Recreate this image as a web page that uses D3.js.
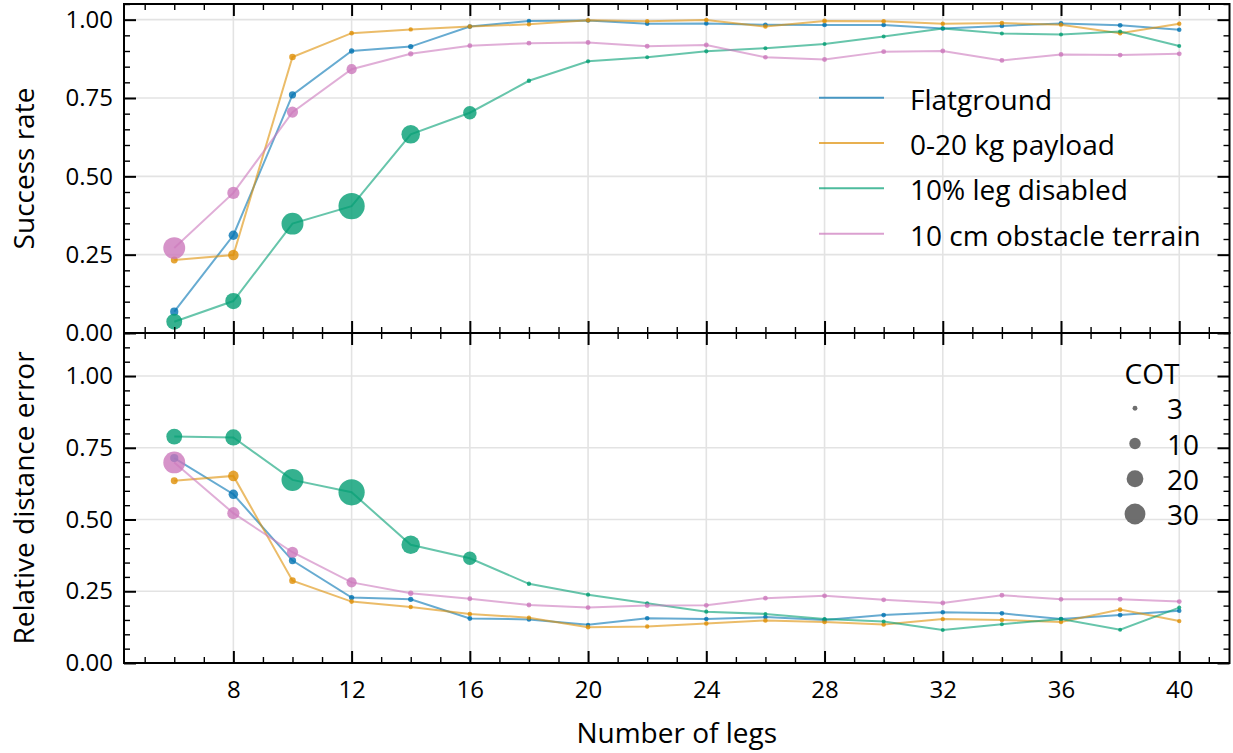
<!DOCTYPE html>
<html>
<head>
<meta charset="utf-8">
<script src="https://cdn.jsdelivr.net/npm/d3@7"></script>
<style>
  html, body { margin: 0; padding: 0; background: #fff; }
  svg { display: block; font-family: "Open Sans", "Noto Sans", sans-serif; }
</style>
</head>
<body>
<svg id="chart" width="1233" height="753"></svg>
<script>
// Number of legs on the x axis
const legs = [6, 8, 10, 12, 14, 16, 18, 20, 22, 24, 26, 28, 30, 32, 34, 36, 38, 40];

// Series names and colours
const seriesNames = ["Flatground", "0-20 kg payload", "10% leg disabled", "10 cm obstacle terrain"];
const seriesColors = ["#0173b2", "#de8f05", "#029e73", "#cc78bc"];

// Success rate per series
const successFlat     = [0.068, 0.312, 0.760, 0.900, 0.914, 0.978, 0.996, 0.997, 0.987, 0.988, 0.984, 0.983, 0.983, 0.972, 0.980, 0.988, 0.982, 0.968];
const successPayload  = [0.233, 0.249, 0.881, 0.957, 0.969, 0.978, 0.985, 0.998, 0.995, 0.999, 0.978, 0.996, 0.995, 0.987, 0.989, 0.984, 0.957, 0.987];
const successDisabled = [0.036, 0.102, 0.349, 0.405, 0.634, 0.703, 0.805, 0.867, 0.880, 0.899, 0.909, 0.922, 0.946, 0.972, 0.956, 0.953, 0.962, 0.916];
const successObstacle = [0.271, 0.447, 0.705, 0.842, 0.891, 0.917, 0.925, 0.927, 0.915, 0.919, 0.880, 0.873, 0.898, 0.900, 0.870, 0.889, 0.887, 0.891];

// Relative distance error per series
const errorFlat     = [0.714, 0.588, 0.357, 0.228, 0.222, 0.155, 0.152, 0.133, 0.156, 0.153, 0.160, 0.150, 0.167, 0.177, 0.173, 0.153, 0.167, 0.182];
const errorPayload  = [0.635, 0.652, 0.287, 0.214, 0.195, 0.171, 0.158, 0.125, 0.127, 0.138, 0.148, 0.143, 0.134, 0.153, 0.150, 0.143, 0.186, 0.146];
const errorDisabled = [0.789, 0.786, 0.638, 0.595, 0.412, 0.365, 0.276, 0.238, 0.208, 0.179, 0.171, 0.153, 0.145, 0.115, 0.135, 0.153, 0.116, 0.193];
const errorObstacle = [0.699, 0.522, 0.386, 0.281, 0.243, 0.224, 0.202, 0.193, 0.200, 0.201, 0.226, 0.234, 0.220, 0.209, 0.236, 0.222, 0.222, 0.214];

// Cost of transport (marker size) per series
const cotFlat     = [5.9, 7.4, 4.9, 3.3, 3.3, 3.0, 2.8, 2.7, 2.8, 2.8, 2.8, 2.9, 2.9, 2.8, 2.9, 2.9, 3.0, 2.8];
const cotPayload  = [4.6, 8.8, 4.3, 2.9, 2.7, 2.8, 2.7, 2.8, 2.7, 2.8, 2.8, 2.9, 2.8, 2.7, 2.8, 2.7, 2.8, 2.7];
const cotDisabled = [18.0, 18.7, 33.0, 46.7, 24.0, 13.5, 2.7, 2.6, 2.5, 2.6, 2.5, 2.5, 2.5, 2.5, 2.5, 2.5, 2.5, 2.5];
const cotObstacle = [33.0, 11.3, 9.7, 8.3, 3.3, 3.0, 3.0, 3.0, 3.0, 3.0, 2.9, 3.0, 3.0, 3.0, 3.0, 2.9, 3.0, 3.0];

// COT size legend entries
const cotLegend = [3, 10, 20, 30];

// Axis ticks
const xMajorTicks = [8, 12, 16, 20, 24, 28, 32, 36, 40];
const yMajorTicks = [0, 0.25, 0.5, 0.75, 1.0];

const successSeries = [successFlat, successPayload, successDisabled, successObstacle];
const errorSeries = [errorFlat, errorPayload, errorDisabled, errorObstacle];
const cotSeries = [cotFlat, cotPayload, cotDisabled, cotObstacle];

const svg = d3.select("#chart");
const left = 124, right = 1229.5;

const x = d3.scaleLinear().domain([4.3, 41.7]).range([left, right]);
// marker diameter squared grows linearly with COT
const sizeScale = d3.scaleLinear().domain([2.5, 46.7]).range([16, 688.5]);
const radius = c => Math.sqrt(sizeScale(c)) / 2;

const xMinor = d3.range(5, 42, 1).filter(v => !xMajorTicks.includes(v));

function panel(top, bottom, yMax, seriesVals, yLabel, showXLabels) {
  const y = d3.scaleLinear().domain([0, yMax]).range([bottom, top]);
  const yMinor = d3.range(0, Math.round(yMax * 20) + 1).map(i => i * 0.05)
    .filter(v => Math.abs(v * 4 - Math.round(v * 4)) > 1e-6 && v <= yMax + 1e-9);
  const g = svg.append("g");

  // grid
  g.append("g").selectAll("line").data(xMajorTicks).join("line")
    .attr("x1", d => x(d)).attr("x2", d => x(d))
    .attr("y1", top).attr("y2", bottom)
    .attr("stroke", "#e3e3e3").attr("stroke-width", 1.6);
  g.append("g").selectAll("line").data(yMajorTicks.filter(v => v > 0)).join("line")
    .attr("x1", left).attr("x2", right)
    .attr("y1", d => y(d)).attr("y2", d => y(d))
    .attr("stroke", "#e3e3e3").attr("stroke-width", 1.6);

  // lines
  const line = d3.line().x((d, i) => x(legs[i])).y(d => y(d));
  seriesVals.forEach((vals, s) => {
    g.append("path").datum(vals)
      .attr("d", line)
      .attr("fill", "none")
      .attr("stroke", seriesColors[s])
      .attr("stroke-opacity", 0.6)
      .attr("stroke-width", 2);
  });
  // markers
  seriesVals.forEach((vals, s) => {
    g.append("g").selectAll("circle").data(vals).join("circle")
      .attr("cx", (d, i) => x(legs[i]))
      .attr("cy", d => y(d))
      .attr("r", (d, i) => radius(cotSeries[s][i]))
      .attr("fill", seriesColors[s])
      .attr("fill-opacity", 0.8);
  });

  // axes: ticks inward on all sides
  const styleAxis = (sel, w) => {
    sel.select(".domain").remove();
    sel.selectAll(".tick line").attr("stroke", "#000").attr("stroke-width", w);
    sel.selectAll("text").attr("font-size", 24).attr("fill", "#000")
      .attr("font-family", "'Open Sans', 'Noto Sans', sans-serif");
  };
  const fmt = d3.format(".2f");
  g.append("g").attr("transform", `translate(${left},0)`)
    .call(d3.axisLeft(y).tickValues(yMajorTicks).tickFormat(fmt).tickSize(-12).tickPadding(11))
    .call(s => styleAxis(s, 2));
  g.append("g").attr("transform", `translate(${left},0)`)
    .call(d3.axisLeft(y).tickValues(yMinor).tickFormat("").tickSize(-6))
    .call(s => styleAxis(s, 1.4));
  g.append("g").attr("transform", `translate(${right},0)`)
    .call(d3.axisRight(y).tickValues(yMajorTicks).tickFormat("").tickSize(-12))
    .call(s => styleAxis(s, 2));
  g.append("g").attr("transform", `translate(${right},0)`)
    .call(d3.axisRight(y).tickValues(yMinor).tickFormat("").tickSize(-6))
    .call(s => styleAxis(s, 1.4));
  g.append("g").attr("transform", `translate(0,${bottom})`)
    .call(d3.axisBottom(x).tickValues(xMajorTicks).tickFormat(showXLabels ? d3.format("d") : "").tickSize(-12).tickPadding(18))
    .call(s => styleAxis(s, 2));
  g.append("g").attr("transform", `translate(0,${bottom})`)
    .call(d3.axisBottom(x).tickValues(xMinor).tickFormat("").tickSize(-6))
    .call(s => styleAxis(s, 1.4));
  g.append("g").attr("transform", `translate(0,${top})`)
    .call(d3.axisTop(x).tickValues(xMajorTicks).tickFormat("").tickSize(-12))
    .call(s => styleAxis(s, 2));
  g.append("g").attr("transform", `translate(0,${top})`)
    .call(d3.axisTop(x).tickValues(xMinor).tickFormat("").tickSize(-6))
    .call(s => styleAxis(s, 1.4));

  // frame
  g.append("rect").attr("x", left).attr("y", top)
    .attr("width", right - left).attr("height", bottom - top)
    .attr("fill", "none").attr("stroke", "#000").attr("stroke-width", 2);

  // y label
  g.append("text")
    .attr("transform", `translate(34,${(top + bottom) / 2}) rotate(-90)`)
    .attr("text-anchor", "middle")
    .attr("font-size", 28)
    .text(yLabel);
  return y;
}

panel(4, 333, 1.05, successSeries, "Success rate", false);
panel(333, 663, 1.15, errorSeries, "Relative distance error", true);

svg.append("text")
  .attr("x", (left + right) / 2).attr("y", 743)
  .attr("text-anchor", "middle").attr("font-size", 28)
  .text("Number of legs");

// series legend
const legendRowsY = d3.scaleLinear().domain([0, 3]).range([97.7, 233.7]);
const lg = svg.append("g");
seriesNames.forEach((name, i) => {
  const yy = legendRowsY(i);
  lg.append("line").attr("x1", 819).attr("x2", 884).attr("y1", yy).attr("y2", yy)
    .attr("stroke", seriesColors[i]).attr("stroke-opacity", 0.7).attr("stroke-width", 2);
  lg.append("text").attr("x", 910).attr("y", yy + 12).attr("font-size", 28).text(name);
});

// COT size legend
const cg = svg.append("g");
cg.append("text").attr("x", 1152).attr("y", 384).attr("text-anchor", "middle")
  .attr("font-size", 28).text("COT");
const cotRowsY = d3.scaleLinear().domain([0, 3]).range([408.3, 514]);
cotLegend.forEach((c, i) => {
  const yy = cotRowsY(i);
  cg.append("circle").attr("cx", 1135).attr("cy", yy).attr("r", radius(c))
    .attr("fill", "#666").attr("fill-opacity", 0.95);
  cg.append("text").attr("x", 1167).attr("y", yy + 11).attr("font-size", 28).text(c);
});
</script>
</body>
</html>
